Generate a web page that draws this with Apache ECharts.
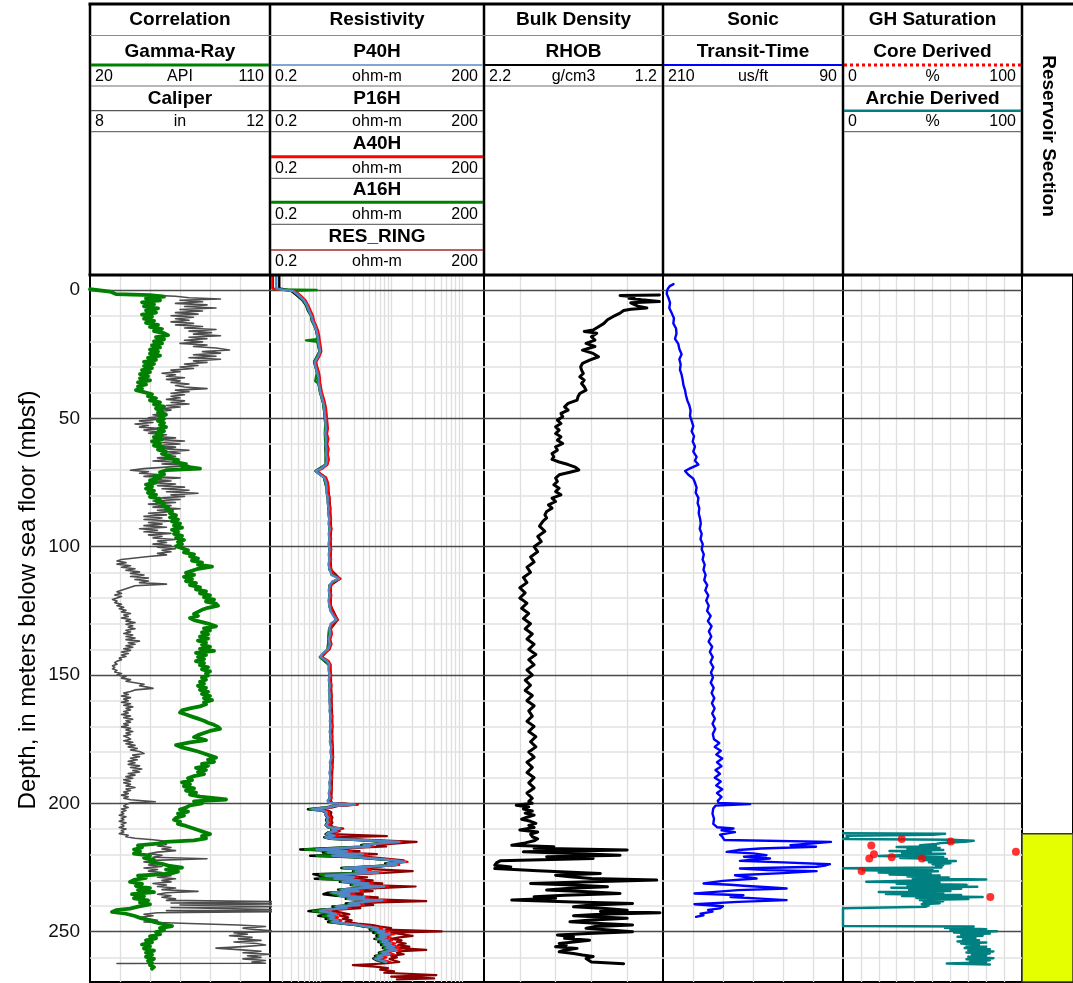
<!DOCTYPE html>
<html>
<head>
<meta charset="utf-8">
<script src="https://cdn.jsdelivr.net/npm/echarts@6/dist/echarts.min.js"></script>
<style>
html,body{margin:0;padding:0;background:#fff;}
#chart{width:1073px;height:983px;}
</style>
</head>
<body>
<div id="chart"></div>
<script>
// ---------- Log data: [depth (mbsf), value] ----------
const depthLabels = [0, 50, 100, 150, 200, 250];
const depthMajor = [0, 50, 100, 150, 200, 250];
const depthMinor = [10,20,30,40,60,70,80,90,110,120,130,140,160,170,180,190,210,220,230,240,260];

const grGrid = [35, 50, 65, 80, 95];
const resGrid = [0.3,0.4,0.5,0.6,0.7,0.8,0.9,1,2,3,4,5,6,7,8,9,10,20,30,40,50,60,70,80,90,100];
const rhobGrid = [2.0, 1.8, 1.6, 1.4];
const sonicGrid = [190, 170, 150, 130, 110];
const satGrid = [10, 20, 30, 40, 50, 60, 70, 80, 90];

// Gamma-Ray, API
const gammaRay = [
[-0.3,20],[0.6,30],[1.6,33],[2.0,50],[2.6,57],[3.3,48],[4.0,55],[4.8,46],[5.6,52],[6.4,47],[7.2,54],[8.0,48],[8.8,53],[9.6,46],
[10.4,51],[11.2,47],[12.0,52],[12.8,48],[13.6,54],[14.4,50],[15.2,56],[16.0,52],[16.8,57],[17.6,59],[18.4,53],[19.2,57],[20.0,52],
[20.8,56],[21.6,51],[22.4,55],[23.2,50],[24.0,54],[24.8,50],[25.6,55],[26.4,49],[27.2,53],[28.0,47],[28.8,52],[29.6,47],[30.4,51],
[31.2,46],[32.0,50],[32.8,45],[33.6,49],[34.4,45],[35.2,50],[36.0,44],[36.8,48],[37.6,44],[38.4,46],[39.0,43],[39.8,47],[40.6,51],
[41.4,49],[42.2,53],[43.0,50],[43.8,55],[44.6,52],[45.4,57],[46.2,53],[47.0,56],[47.8,54],[48.6,58],[49.4,55],[50.2,57],[51.0,54],
[51.8,57],[52.6,55],[53.4,58],[54.2,54],[55.0,57],[55.8,53],[56.6,56],[57.4,52],[58.2,56],[59.0,51],[59.8,55],[60.6,52],[61.4,57],
[62.2,54],[63.0,58],[63.8,56],[64.6,60],[65.4,58],[66.2,64],[67.0,62],[67.8,68],[68.6,66],[69.6,75],[70.2,58],[71.0,55],[71.8,57],
[72.6,52],[73.4,55],[74.2,50],[75.0,53],[75.8,48],[76.6,51],[77.4,48],[78.2,52],[79.0,49],[79.8,53],[80.6,50],[81.4,55],[82.2,53],
[83.0,57],[83.8,56],[84.6,59],[85.4,58],[86.2,61],[87.0,60],[87.8,63],[88.6,60],[89.4,64],[90.2,61],[91.0,65],[91.8,62],[92.6,66],
[93.4,61],[94.2,64],[95.0,62],[95.8,66],[96.6,63],[97.4,67],[98.2,64],[99.0,66],[99.8,63],[100.6,66],[101.4,69],[102.2,67],[103.0,72],
[103.8,70],[104.6,74],[105.4,71],[106.2,76],[107.0,74],[107.8,81],[108.6,74],[109.4,71],[110.2,68],[111.0,72],[111.8,67],[112.6,71],
[113.4,68],[114.2,73],[115.0,70],[115.8,75],[116.6,73],[117.4,78],[118.2,75],[119.0,80],[119.8,77],[120.6,82],[121.4,78],[122.2,83],
[123.0,84],[123.8,79],[124.6,76],[125.4,74],[126.2,72],[127.0,74],[127.8,70],[128.6,72],[129.4,76],[130.2,80],[131.0,83],[131.8,77],
[132.6,80],[133.4,76],[134.2,79],[135.0,75],[135.8,79],[136.6,74],[137.4,78],[138.2,76],[139.0,80],[139.8,75],[140.6,82],[141.4,73],
[142.2,78],[143.0,74],[143.8,77],[144.6,73],[145.4,77],[146.2,75],[147.0,79],[147.8,76],[148.6,80],[149.4,78],[150.2,79],[151.0,76],
[151.8,78],[152.6,75],[153.4,77],[154.2,74],[155.0,78],[155.8,75],[156.6,79],[157.4,76],[158.2,80],[159.0,77],[159.8,81],[160.6,77],
[161.4,78],[162.2,75],[163.0,70],[163.8,66],[164.6,65],[165.4,68],[166.2,71],[167.0,74],[167.8,77],[168.6,79],[169.4,82],[170.2,84],
[171.0,85],[171.8,80],[172.6,77],[173.4,74],[174.2,72],[175.0,76],[175.4,78],[176.2,70],[177.3,63],[178.2,66],[179.0,70],[179.8,74],
[180.6,77],[181.4,80],[182.2,83],[183.0,79],[183.8,82],[184.6,76],[185.4,79],[186.2,73],[187.0,78],[187.8,74],[188.6,77],[189.4,72],
[190.2,69],[191.0,71],[191.8,66],[192.6,70],[193.4,67],[194.2,72],[195.0,68],[195.8,73],[196.6,70],[197.4,75],[198.5,88],[199.2,72],
[200.0,76],[200.8,70],[201.6,68],[202.4,65],[203.2,69],[204.0,64],[204.8,67],[205.6,63],[206.4,62],[207.2,65],[208.0,64],[208.8,68],
[209.6,71],[210.4,74],[211.2,77],[212.0,80],[212.8,76],[213.6,78],[214.4,72],[215.0,58],[215.6,55],[216.4,44],[217.2,46],[218.0,42],
[218.8,45],[219.6,42],[220.4,50],[221.2,47],[222.0,52],[222.8,50],[223.6,56],[224.4,60],[225.0,66],[225.8,58],[226.6,64],[227.4,60],
[228.2,44],[229.0,48],[229.8,42],[230.6,40],[231.4,46],[232.2,43],[233.0,50],[233.8,44],[234.6,52],[235.4,41],[236.2,47],[237.0,42],
[237.8,49],[238.6,45],[239.4,50],[240.2,44],[241.0,40],[241.6,33],[242.3,31],[243.0,38],[243.8,42],[244.6,45],[245.4,49],[246.2,52],
[247.0,56],[247.8,61],[248.6,55],[249.4,57],[250.2,53],[251.0,55],[251.8,50],[252.6,53],[253.4,48],[254.2,51],[255.0,46],[255.8,50],
[256.6,47],[257.4,52],[258.2,48],[259.0,51],[259.8,48],[260.6,52],[261.4,49],[262.2,51],[263.0,50],[263.8,52],[264.4,51]
];

// Caliper, in
const caliper = [
[2.0,9.3],[2.4,9.9],[3.0,10.2],[3.5,10.9],[4.0,10.0],[4.6,10.5],[5.2,9.9],[5.8,10.6],[6.4,10.1],[7.0,10.8],[7.6,10.0],[8.2,10.5],
[8.8,9.9],[9.4,10.4],[10.0,9.8],[10.6,10.3],[11.2,9.9],[11.8,10.2],[12.4,9.8],[13.0,10.3],[13.6,9.9],[14.2,10.5],[14.8,10.1],[15.4,10.8],
[16.0,10.2],[16.6,10.7],[17.2,10.3],[17.8,10.9],[18.4,10.2],[19.0,10.6],[19.6,10.1],[20.2,10.5],[20.8,10.0],[21.4,10.6],[22.0,10.3],
[22.6,10.8],[23.4,11.1],[24.0,10.5],[24.6,10.9],[25.2,10.3],[25.8,10.8],[26.4,10.2],[27.0,10.9],[27.6,10.3],[28.2,10.6],[28.8,10.1],
[29.4,10.4],[30.0,10.0],[30.6,10.3],[31.2,9.8],[31.8,10.0],[32.4,9.6],[33.0,9.9],[33.6,9.7],[34.2,10.1],[34.8,9.7],[35.4,10.0],[36.0,9.8],
[36.6,10.2],[37.2,9.9],[37.8,10.1],[38.4,10.6],[39.0,9.9],[39.6,10.2],[40.2,9.8],[40.8,10.1],[41.4,9.8],[42.0,10.0],[42.6,9.7],[43.2,10.1],
[43.8,9.8],[44.4,10.2],[45.0,9.7],[45.6,10.0],[46.2,9.6],[46.8,9.8],[47.4,9.5],[48.0,9.7],[48.6,9.4],[49.2,9.6],[49.8,9.3],[50.4,9.5],
[51.0,9.1],[51.6,9.4],[52.2,9.0],[52.8,9.3],[53.4,9.1],[54.0,9.6],[54.6,9.2],[55.2,9.5],[55.8,9.3],[56.4,9.7],[57.0,9.4],[57.6,9.9],
[58.2,9.5],[58.8,10.1],[59.4,9.6],[60.0,10.0],[60.6,9.5],[61.2,9.9],[61.8,9.6],[62.4,10.2],[63.0,9.7],[63.6,10.0],[64.2,9.6],[64.8,9.9],
[65.4,9.5],[66.0,9.8],[66.6,9.4],[67.2,10.0],[67.8,9.6],[68.4,10.2],[69.0,9.7],[69.6,9.2],[70.2,8.9],[70.8,9.3],[71.4,9.1],[72.0,9.6],
[72.6,9.2],[73.2,10.0],[73.8,9.4],[74.4,9.8],[75.0,9.3],[75.6,9.9],[76.2,9.5],[76.8,10.1],[77.4,9.6],[78.0,10.2],[78.6,9.7],[79.2,10.4],
[79.8,9.8],[80.4,10.1],[81.0,9.6],[81.6,10.0],[82.2,9.4],[82.8,9.9],[83.4,9.3],[84.0,9.8],[84.6,9.4],[85.2,10.0],[85.8,9.5],[86.4,9.8],
[87.0,9.3],[87.6,9.7],[88.2,9.2],[88.8,9.6],[89.4,9.2],[90.0,9.8],[90.6,9.3],[91.2,9.6],[91.8,9.2],[92.4,9.7],[93.0,9.1],[93.6,9.5],
[94.2,9.2],[94.8,9.8],[95.4,9.3],[96.0,9.6],[96.6,9.4],[97.2,9.9],[97.8,9.5],[98.4,9.7],[99.0,9.4],[99.6,9.8],[100.2,9.5],[100.8,9.9],
[101.4,9.6],[102.0,9.8],[102.6,9.5],[103.2,9.7],[103.8,9.3],[104.4,9.0],[105.0,8.7],[105.6,8.6],[106.2,8.8],[106.8,8.6],[107.4,8.9],
[108.0,8.7],[108.6,9.0],[109.2,8.8],[109.8,9.1],[110.4,8.9],[111.0,9.2],[111.6,8.9],[112.2,9.3],[112.8,9.0],[113.4,9.3],[114.0,9.1],
[114.6,9.7],[115.2,9.0],[115.8,8.9],[116.4,8.8],[117.0,8.7],[117.6,8.6],[118.2,8.7],[118.8,8.55],[119.4,8.7],[120.0,8.6],[120.6,8.5],
[121.2,8.6],[121.8,8.55],[122.4,8.7],[123.0,8.6],[123.6,8.75],[124.2,8.65],[124.8,8.8],[125.4,8.7],[126.0,8.9],[126.6,8.75],[127.2,8.85],
[127.8,8.7],[128.4,8.9],[129.0,8.8],[129.6,9.0],[130.2,8.8],[130.8,8.95],[131.4,8.85],[132.0,9.0],[132.6,8.8],[133.2,8.9],[133.8,8.75],
[134.4,8.95],[135.0,8.8],[135.6,9.0],[136.2,8.8],[136.8,9.1],[137.4,8.85],[138.0,9.0],[138.6,8.8],[139.2,8.95],[139.8,8.75],[140.4,8.9],
[141.0,8.7],[141.6,8.85],[142.2,8.7],[142.8,8.8],[143.4,8.65],[144.0,8.7],[144.6,8.6],[145.2,8.55],[145.8,8.6],[146.4,8.5],[147.0,8.55],
[147.6,8.5],[148.2,8.6],[148.8,8.55],[149.4,8.7],[150.0,8.6],[150.6,8.8],[151.2,8.7],[151.8,8.9],[152.4,8.8],[153.0,9.0],[153.6,9.2],
[154.2,9.1],[154.8,9.3],[155.2,9.4],[155.8,9.0],[156.4,8.9],[157.0,8.75],[157.6,8.85],[158.2,8.7],[158.8,8.9],[159.4,8.75],[160.0,8.85],
[160.6,8.7],[161.2,8.9],[161.8,8.75],[162.4,8.95],[163.0,8.8],[163.6,8.9],[164.2,8.75],[164.8,8.85],[165.4,8.7],[166.0,8.9],[166.6,8.75],
[167.2,8.95],[167.8,8.8],[168.4,8.9],[169.0,8.75],[169.6,8.85],[170.2,8.7],[170.8,8.9],[171.4,8.8],[172.0,8.95],[172.6,8.8],[173.2,8.9],
[173.8,8.75],[174.4,8.85],[175.0,8.9],[175.6,8.75],[176.2,8.95],[176.8,8.8],[177.4,9.0],[178.0,8.85],[178.6,9.05],[179.2,8.9],[179.8,9.1],
[180.6,9.2],[181.2,8.95],[181.8,9.1],[182.4,8.9],[183.0,9.05],[183.6,8.85],[184.2,9.0],[184.8,8.85],[185.4,9.1],[186.0,8.9],[186.6,9.15],
[187.2,8.95],[187.8,9.1],[188.4,8.85],[189.0,9.0],[189.6,8.8],[190.2,8.95],[190.8,8.75],[191.4,8.9],[192.0,8.75],[192.6,8.9],[193.2,8.8],
[193.8,9.0],[194.4,8.8],[195.0,8.9],[195.6,8.75],[196.2,8.85],[196.8,8.7],[197.4,8.85],[198.0,8.75],[198.6,8.9],[199.4,9.45],[199.8,8.9],
[200.4,8.8],[201.0,8.75],[201.6,8.85],[202.2,8.7],[202.8,8.8],[203.4,8.7],[204.0,8.75],[204.6,8.65],[205.2,8.8],[205.8,8.7],[206.4,8.75],
[207.0,8.65],[207.6,8.8],[208.2,8.7],[208.8,8.75],[209.4,8.65],[210.0,8.8],[210.6,8.7],[211.2,8.75],[211.8,8.65],[212.4,8.85],[213.0,8.8],
[213.6,9.0],[214.2,9.4],[214.8,9.7],[215.4,9.5],[216.0,9.7],[216.6,9.5],[217.2,9.8],[217.8,9.6],[218.4,9.9],[219.0,9.5],[219.6,9.3],
[220.2,9.6],[221.0,9.4],[221.6,10.6],[222.2,9.4],[222.8,9.2],[223.4,9.5],[224.0,9.3],[224.6,9.6],[225.2,9.2],[225.8,9.5],[226.4,9.3],
[227.0,9.6],[227.6,9.4],[228.2,9.8],[228.8,9.5],[229.4,9.9],[230.0,9.6],[230.6,9.8],[231.2,9.4],[231.8,9.7],[232.4,9.5],[233.0,9.9],
[233.6,9.6],[234.3,10.4],[234.8,9.7],[235.4,9.5],[236.0,9.8],[236.6,9.6],[237.2,9.9],[237.8,9.7],[238.3,12.2],[238.8,9.8],[239.2,12.2],
[239.6,10.0],[240.2,12.2],[240.6,9.8],[241.4,12.2],[241.8,9.7],[242.2,12.2],[242.6,9.5],[243.2,9.2],[243.8,9.4],[244.4,9.1],[245.0,9.3],
[245.6,9.5],[246.2,9.2],[246.8,10.2],[247.4,11.3],[248.0,11.9],[248.6,11.4],[249.2,11.7],[249.8,12.2],[250.4,11.2],[251.0,11.5],[251.6,11.1],
[252.2,11.6],[252.8,11.3],[253.4,11.8],[254.0,11.2],[254.6,11.7],[255.2,11.9],[255.8,11.4],[256.4,10.8],[257.0,11.3],[257.6,11.8],
[258.2,11.4],[258.8,12.0],[259.4,11.5],[260.0,11.8],[260.6,11.4],[261.2,11.9],[261.8,11.6],[262.3,11.9],[262.4,8.6]
];

// Resistivity curves, ohm-m
const p40h = [
[-5.5,0.245],[-0.6,0.245],[-0.1,0.3],[0.4,0.42],[2,0.5],[4,0.6],[6,0.66],[8,0.7],[10,0.76],[12,0.79],[14,0.85],[16,0.9],[18,0.93],
[20,0.95],[22,0.98],[24,1.0],[26,0.94],[28,0.85],[30,0.87],[32,0.92],[34,0.95],[36,0.96],[38,0.99],[40,1.02],[42,1.07],[44,1.12],
[46,1.15],[48,1.17],[50,1.19],[52,1.2],[54,1.22],[56,1.19],[58,1.23],[60,1.2],[62,1.24],[64,1.22],[66,1.26],[68,1.22],[69.5,1.05],
[70.5,0.88],[71.5,0.95],[73,1.15],[75,1.22],[77,1.25],[79,1.23],[81,1.3],[83,1.28],[85,1.33],[87,1.3],[89,1.36],[91,1.32],[93,1.38],
[95,1.33],[97,1.36],[99,1.32],[101,1.37],[103,1.33],[105,1.36],[107,1.32],[109,1.38],[111,1.45],[112.5,1.85],[113.5,1.5],[115,1.38],
[117,1.33],[119,1.37],[121,1.32],[123,1.36],[125,1.4],[127,1.55],[128.5,1.7],[130,1.42],[132,1.36],[134,1.4],[136,1.33],[138,1.38],
[140,1.3],[141.5,1.1],[143,1.02],[144.5,1.25],[146,1.35],[148,1.32],[150,1.37],[152,1.33],[154,1.38],[156,1.34],[158,1.39],[160,1.35],
[162,1.4],[164,1.36],[166,1.42],[168,1.38],[170,1.43],[172,1.37],[174,1.42],[176,1.38],[178,1.45],[180,1.4],[182,1.46],[184,1.38],
[186,1.43],[188,1.36],[190,1.41],[192,1.35],[194,1.4],[196,1.33],[198,1.38],
[199,1.28],[199.8,1.35],[200.5,3.1],[201,1.6],[201.6,1.3],[202.3,0.78],[202.8,1.1],[203.5,1.25],[204.5,1.22],[205.5,1.3],[206.5,1.25],
[207.5,1.3],[208.5,1.22],[209.3,1.35],[209.8,1.9],[210.3,1.5],[210.8,1.7],[211.3,1.35],[212,1.25],[212.6,1.6],[213.2,1.2],[213.8,1.5],
[214.4,4.5],[215,13],[215.6,7],[216.2,4.2],[216.8,5],[217.4,2],[218,0.9],[218.6,2.4],[219.2,1.3],[219.8,4],[220.4,1.5],[221,3.5],
[221.6,6],[222.2,11],[222.8,15.5],[223.4,9],[224,12],[224.6,5.5],[225.2,2.2],[225.8,4.5],[226.4,3.2],[227,6.5],[227.6,2.4],[228.2,1.2],
[228.8,3],[229.4,1.6],[230,3.6],[230.6,2.1],[231.2,4.8],[231.8,3],[232.4,8],[233,4],[233.6,2],[234.2,3.5],[234.8,1.5],[235.4,2.6],
[236,1.9],[236.6,4.2],[237.2,2.5],[237.8,7.5],[238.4,4.2],[239,2.6],[239.6,3.6],[240.2,1.7],[240.8,2.4],[241.4,1.2],[242,1.0],[242.6,1.4],
[243.2,1.7],[243.8,1.3],[244.4,1.6],[245,1.4],[245.6,1.8],[246.2,1.5],[246.8,2.2],[247.4,3.5],[248,4.5],[248.6,6.5],[249.2,5.5],[249.8,8],
[250.4,6.5],[251,9.5],[251.6,7],[252.2,8.5],[252.8,6.5],[253.4,9],[254,7.5],[254.6,10],[255.2,8],[255.8,11],[256.4,8.5],[257,12],
[257.6,9],[258.2,7.5],[258.8,9.5],[259.4,6.5],[260,7.5],[260.6,6],[261.2,7],[261.8,8.5]
];
const p16h = [
[-5.5,0.27],[-0.6,0.27],[-0.1,0.34],[0.4,0.4],[2,0.47],[4,0.57],[6,0.64],[8,0.68],[10,0.75],[12,0.77],[14,0.84],[16,0.89],[18,0.92],
[20,0.93],[24,0.99],[28,0.83],[32,0.91],[36,0.95],[40,1.01],[44,1.11],[48,1.16],[52,1.19],[56,1.18],[60,1.19],[64,1.21],[68,1.21],
[70.5,0.87],[73,1.14],[77,1.24],[81,1.29],[85,1.32],[89,1.35],[93,1.37],[97,1.35],[101,1.36],[105,1.35],[109,1.37],[112.5,1.8],
[115,1.37],[119,1.36],[123,1.35],[128.5,1.68],[132,1.35],[136,1.32],[140,1.29],[143,1.0],[146,1.34],[150,1.36],[154,1.37],[158,1.38],
[162,1.39],[166,1.41],[170,1.42],[174,1.41],[178,1.44],[182,1.45],[186,1.42],[190,1.4],[194,1.39],[198,1.37],
[199,1.3],[199.8,1.36],[200.5,3.0],[201,1.55],[201.6,1.2],[202.3,0.68],[202.8,1.05],[203.5,1.22],[204.5,1.2],[205.5,1.27],[206.5,1.22],
[207.5,1.27],[208.5,1.2],[209.3,1.3],[209.8,1.8],[210.3,1.45],[210.8,1.6],[211.3,1.3],[212,1.2],[212.6,1.5],[213.2,1.15],[213.8,1.4],
[214.4,4.0],[215,12],[215.6,6.5],[216.2,3.8],[216.8,4.6],[217.4,1.5],[218,0.53],[218.6,2.0],[219.2,1.1],[219.8,3.6],[220.4,0.73],[221,3.0],
[221.6,5.5],[222.2,10],[222.8,14.5],[223.4,8.2],[224,11],[224.6,5],[225.2,2.0],[225.8,4.1],[226.4,2.9],[227,6],[227.6,0.81],[228.2,1.0],
[228.8,2.7],[229.4,0.85],[230,3.2],[230.6,1.9],[231.2,4.4],[231.8,2.7],[232.4,7.3],[233,3.6],[233.6,1.8],[234.2,3.2],[234.8,1.3],[235.4,1.12],
[236,1.7],[236.6,3.8],[237.2,2.3],[237.8,6.8],[238.4,3.8],[239,2.3],[239.6,3.2],[240.2,1.5],[240.8,2.1],[241.4,1.0],[242,0.69],[242.6,1.2],
[243.2,1.5],[243.8,0.95],[244.4,1.4],[245,1.2],[245.6,1.6],[246.2,1.3],[246.8,2.0],[247.4,3.2],[248,4.1],[248.6,5.9],[249.2,5.0],[249.8,7.2],
[250.4,5.6],[251,8.6],[251.6,6.2],[252.2,7.6],[252.8,5.8],[253.4,8.2],[254,6.6],[254.6,9.1],[255.2,7.2],[255.8,10],[256.4,7.6],[257,11],
[257.6,8.1],[258.2,6.7],[258.8,8.6],[259.4,5.9],[260,6.8],[260.4,5.6],[261.2,6.3],[261.8,7.7]
];
const a40h = [
[-5.5,0.215],[-0.6,0.215],[-0.2,0.25],[0.3,0.44],[2,0.53],[4,0.63],[6,0.69],[8,0.74],[10,0.8],[12,0.83],[14,0.89],[16,0.95],[18,0.98],
[20,1.0],[22,1.03],[24,1.05],[26,0.98],[28,0.89],[30,0.92],[32,0.97],[34,1.0],[36,1.01],[38,1.04],[40,1.07],[42,1.13],[44,1.18],
[46,1.22],[48,1.24],[50,1.26],[52,1.28],[54,1.3],[56,1.26],[58,1.32],[60,1.27],[62,1.33],[64,1.29],[66,1.34],[68,1.28],[69.5,1.1],
[70.5,0.92],[71.5,1.0],[73,1.22],[75,1.3],[77,1.33],[79,1.3],[81,1.38],[83,1.35],[85,1.41],[87,1.37],[89,1.44],[91,1.39],[93,1.46],
[95,1.4],[97,1.44],[99,1.39],[101,1.45],[103,1.4],[105,1.44],[107,1.39],[109,1.46],[111,1.53],[112.5,1.95],[113.5,1.58],[115,1.45],
[117,1.4],[119,1.45],[121,1.39],[123,1.44],[125,1.48],[127,1.63],[128.5,1.8],[130,1.5],[132,1.43],[134,1.48],[136,1.4],[138,1.46],
[140,1.37],[141.5,1.16],[143,1.08],[144.5,1.32],[146,1.42],[148,1.39],[150,1.45],[152,1.4],[154,1.46],[156,1.41],[158,1.47],[160,1.42],
[162,1.48],[164,1.43],[166,1.5],[168,1.45],[170,1.51],[172,1.44],[174,1.5],[176,1.45],[178,1.53],[180,1.47],[182,1.54],[184,1.45],
[186,1.51],[188,1.43],[190,1.49],[192,1.42],[194,1.48],[196,1.4],[198,1.46],
[199,1.36],[199.8,1.45],[200.5,3.3],[201,1.7],[201.6,1.4],[202.3,0.85],[202.8,1.2],[203.5,1.35],[204.5,1.32],[205.5,1.42],[206.5,1.35],
[207.5,1.42],[208.5,1.32],[209.3,1.45],[209.8,2.0],[210.3,1.6],[210.8,1.8],[211.3,1.45],[212,1.35],[212.6,1.8],[213.2,1.3],[213.8,1.7],
[214.4,5.0],[215,14],[215.6,8.5],[216.2,4.6],[216.8,5.6],[217.4,2.3],[218,1.0],[218.6,2.8],[219.2,1.5],[219.8,4.6],[220.4,1.7],[221,4.0],
[221.6,7.0],[222.2,12.5],[222.8,17],[223.4,10],[224,13],[224.6,6],[225.2,2.5],[225.8,5.2],[226.4,3.8],[227,7.5],[227.6,2.7],[228.2,1.3],
[228.8,3.4],[229.4,1.8],[230,4.1],[230.6,2.4],[231.2,5.5],[231.8,3.4],[232.4,9],[233,4.6],[233.6,2.3],[234.2,4.0],[234.8,1.7],[235.4,3.0],
[236,2.1],[236.6,4.8],[237.2,2.8],[237.8,8.5],[238.4,4.8],[239,3.0],[239.6,4.1],[240.2,1.9],[240.8,2.7],[241.4,1.3],[242,1.1],[242.6,1.5],
[243.2,1.9],[243.8,1.4],[244.4,1.8],[245,1.5],[245.6,2.0],[246.2,1.7],[246.8,2.5],[247.4,4.0],[248,5.2],[248.6,7.5],[249.2,6.3],[249.8,9.2],
[250.4,7.4],[251,11],[251.6,8],[252.2,9.8],[252.8,7.4],[253.4,10.3],[254,8.6],[254.6,11.5],[255.2,9.2],[255.8,12.6],[256.4,9.7],[257,13.8],
[257.6,10.3],[258.2,8.6],[258.8,10.9],[259.4,7.4],[260,8.6],[260.6,6.9],[261.2,8],[261.8,9.7]
];
const a16h = [
[-0.2,0.25],[0.0,0.9],[0.3,0.42],[2,0.49],[4,0.58],[6,0.65],[8,0.69],[10,0.75],[12,0.78],[14,0.84],[16,0.9],[18,0.92],[19.2,0.9],
[19.6,0.64],[20.2,0.92],[24,0.99],[28,0.84],[32,0.91],[35.5,0.86],[36.5,0.96],[40,1.01],[44,1.11],[48,1.16],[52,1.19],[56,1.18],
[60,1.2],[64,1.21],[68,1.21],[70.5,0.87],[73,1.14],[77,1.24],[81,1.29],[85,1.32],[89,1.35],[93,1.37],[97,1.35],[101,1.36],[105,1.35],
[109,1.37],[112.5,1.82],[115,1.37],[119,1.36],[123,1.35],[128.5,1.69],[132,1.35],[136,1.32],[140,1.29],[143,1.01],[146,1.34],[150,1.36],
[154,1.37],[158,1.38],[162,1.39],[166,1.41],[170,1.42],[174,1.41],[178,1.44],[182,1.45],[186,1.42],[190,1.4],[194,1.39],[198,1.37],
[199,1.32],[199.8,1.4],[200.5,3.1],[201,1.6],[201.6,1.25],[202.3,0.72],[202.8,1.1],[203.5,1.26],[204.5,1.24],[205.5,1.3],[206.5,1.26],
[207.5,1.3],[208.5,1.24],[209.3,1.34],[209.8,1.85],[210.3,1.5],[210.8,1.65],[211.3,1.33],[212,1.24],[212.6,1.55],[213.2,1.2],[213.8,1.45],
[214.4,4.3],[215,12.5],[215.6,6.8],[216.2,4.0],[216.8,4.8],[217.4,1.7],[218,0.62],[218.6,2.2],[219.2,1.2],[219.8,3.8],[220.4,0.9],[221,3.3],
[221.6,5.8],[222.2,10.5],[222.8,15],[223.4,8.6],[224,11.5],[224.6,5.2],[225.2,2.1],[225.8,4.3],[226.4,3.0],[227,6.2],[227.6,1.0],[228.2,1.1],
[228.8,2.8],[229.4,1.0],[230,3.4],[230.6,2.0],[231.2,4.6],[231.8,2.8],[232.4,7.6],[233,3.8],[233.6,1.9],[234.2,3.3],[234.8,1.4],[235.4,1.4],
[236,1.8],[236.6,4.0],[237.2,2.4],[237.8,7.1],[238.4,4.0],[239,2.5],[239.6,3.4],[240.2,1.6],[240.8,2.2],[241.4,1.1],[242,0.8],[242.6,1.3],
[243.2,1.6],[243.8,1.1],[244.4,1.5],[245,1.3],[245.6,1.7],[246.2,1.4],[246.8,2.1],[247.4,3.3],[248,4.3],[248.6,6.2],[249.2,5.2],[249.8,7.6],
[250.4,6.0],[251,9.0],[251.6,6.6],[252.2,8.0],[252.8,6.1],[253.4,8.6],[254,7.0],[254.6,9.5],[255.2,7.6],[255.8,10.4],[256.4,8.0],[257,11.4],
[257.6,8.5],[258.2,7.0],[258.8,9.0],[259.4,6.2],[260,7.1],[260.4,5.8],[261.2,6.6],[261.8,8.1]
];
const resRing = [
[-5.5,0.22],[-0.6,0.22],[-0.1,0.3],[0.4,0.45],[2,0.52],[4,0.62],[6,0.68],[8,0.72],[10,0.79],[12,0.81],[14,0.87],[16,0.93],[18,0.96],
[20,0.98],[24,1.03],[28,0.87],[32,0.95],[36,0.99],[40,1.05],[44,1.16],[48,1.22],[52,1.26],[56,1.25],[60,1.26],[64,1.28],[68,1.27],
[70.5,0.9],[73,1.2],[77,1.31],[81,1.36],[85,1.4],[89,1.42],[93,1.44],[97,1.42],[101,1.43],[105,1.42],[109,1.44],[112.5,1.92],[115,1.43],
[119,1.43],[123,1.42],[128.5,1.78],[132,1.42],[136,1.39],[140,1.35],[143,1.06],[146,1.4],[150,1.43],[154,1.44],[158,1.46],[162,1.47],
[166,1.49],[170,1.5],[174,1.49],[178,1.52],[182,1.53],[186,1.5],[190,1.48],[194,1.47],[198,1.45],
[199,1.42],[199.8,1.5],[200.5,3.4],[201,1.8],[201.6,1.5],[202.3,0.95],[202.8,1.3],[203.5,1.45],[204.5,1.42],[205.5,1.5],[206.5,1.45],
[207.5,1.5],[208.5,1.42],[209.3,1.55],[209.8,2.13],[210.3,1.7],[210.8,1.9],[211.3,1.55],[212,1.45],[212.8,8.7],[213.2,1.5],[213.8,2.2],
[214.4,7.0],[215,22.7],[215.6,12],[216.2,6.3],[216.8,8.5],[217.4,3.0],[218,1.3],[218.6,3.6],[219.2,2.0],[219.8,6.3],[220.4,2.4],[221,5.5],
[221.6,9.0],[222.2,15],[222.8,16],[223.4,12],[224,10],[224.6,7.5],[225.2,3.3],[225.8,7],[226.4,20],[227,9],[227.6,3.5],[228.2,1.8],
[228.8,4.6],[229.4,2.5],[230,5.5],[230.6,3.3],[231.2,7.5],[231.8,4.6],[232.4,22],[233,6.5],[233.6,3.2],[234.2,5.5],[234.8,2.4],[235.4,4.0],
[236,3.0],[236.6,6.5],[237.2,3.8],[238.1,31],[238.6,6.5],[239,4.2],[239.6,5.6],[240.2,2.6],[240.8,3.7],[241.4,1.8],[242,1.5],[242.6,2.0],
[243.2,2.6],[243.8,1.9],[244.4,2.5],[245,2.1],[245.6,2.8],[246.2,2.3],[246.8,3.4],[247.4,5.5],[248,7],[248.6,10],[249.2,8.5],[249.9,51],
[250.4,10],[251,14],[251.6,20],[252.2,13],[252.8,10],[253.4,14],[254,12],[254.6,16],[255.2,12.5],[255.8,18],[256.4,13],[257.1,31],
[257.6,14],[258.2,12],[258.8,15],[259.4,10],[260,12],[260.6,9.5],[261.2,11],[261.8,13],[262.4,8],[263,2.9],[263.6,6],[264.2,9],
[264.8,7],[265.4,11],[266,8],[266.9,43],[267.5,10],[268.2,40],[268.6,12]
];

// Bulk density RHOB, g/cm3
const rhob = [
[1.9,1.22],[2.1,1.44],[2.6,1.36],[3.2,1.39],[3.8,1.32],[4.5,1.22],[5.0,1.38],[5.6,1.37],[6.3,1.34],[7.0,1.29],[7.5,1.38],[8.0,1.42],
[9.0,1.44],[10.4,1.48],[11.6,1.51],[13.0,1.53],[14.3,1.56],[15.6,1.59],[16.2,1.64],[16.8,1.57],[18.2,1.60],[19.5,1.58],[20.8,1.63],
[22.0,1.58],[23.4,1.65],[24.7,1.59],[26.0,1.56],[27.3,1.61],[28.6,1.65],[29.9,1.66],[31.2,1.655],[32.5,1.645],[33.8,1.665],[35.1,1.64],
[36.4,1.655],[37.7,1.64],[39.0,1.63],[40.3,1.665],[41.6,1.675],[42.9,1.68],[44.2,1.73],[45.5,1.75],[46.8,1.73],[48.1,1.77],[49.4,1.76],
[50.7,1.79],[52.0,1.77],[53.3,1.80],[54.6,1.78],[55.9,1.80],[57.2,1.77],[58.5,1.79],[59.8,1.76],[61.1,1.80],[62.4,1.79],[63.7,1.82],
[65.0,1.81],[66.0,1.82],[67.0,1.78],[68.0,1.73],[69.0,1.69],[70.1,1.67],[71.0,1.72],[72.0,1.78],[73.3,1.80],[74.6,1.79],[75.9,1.81],
[77.2,1.78],[78.5,1.80],[79.8,1.77],[81.1,1.82],[82.4,1.80],[83.7,1.84],[85.0,1.82],[86.3,1.85],[87.6,1.86],[88.8,1.85],
[90,1.87],[92,1.89],[94,1.86],[96,1.90],[98,1.88],[100,1.92],[102,1.90],[104,1.94],[106,1.92],[108,1.96],[110,1.94],[112,1.98],
[114,1.96],[116,2.00],[118,1.97],[120,2.00],[122,1.96],[124,1.99],[126,1.95],[128,1.98],[130,1.94],[132,1.97],[134,1.93],[136,1.96],
[138,1.92],[140,1.95],[142,1.91],[144,1.95],[146,1.92],[148,1.96],[150,1.93],[152,1.97],[154,1.94],[156,1.97],[158,1.93],[160,1.96],
[162,1.92],[164,1.95],[166,1.93],[168,1.96],[170,1.92],[172,1.95],[174,1.91],[176,1.94],[178,1.91],[180,1.95],[182,1.92],[184,1.96],
[186,1.93],[188,1.96],[190,1.92],[192,1.95],[194,1.92],[196,1.96],[198,1.93],
[199.2,1.95],[200.0,1.93],[200.7,2.02],[201.4,1.95],[202.2,1.98],[203.0,1.93],[203.8,1.97],[204.6,1.92],[205.4,1.96],[206.2,1.99],
[207.0,1.94],[207.8,1.91],[208.6,1.95],[209.4,1.92],[210.4,2.00],[211.2,1.90],[212.0,1.94],[213.0,1.93],[213.8,1.90],[214.6,1.92],
[215.4,1.97],[216.3,2.045],[216.9,1.81],[217.5,1.92],[218.2,1.40],[218.9,1.98],[219.5,1.70],[220.2,1.44],[220.8,1.85],[221.5,1.59],
[222.4,2.11],[223.2,2.13],[224.1,2.14],[224.8,2.05],[225.4,2.14],[226.3,1.90],[227.3,1.55],[228.0,1.80],[228.6,1.72],[229.3,1.60],
[229.9,1.235],[230.5,1.60],[231.2,1.94],[231.8,1.70],[232.5,1.51],[233.1,1.72],[233.8,1.85],[234.4,1.62],[235.1,1.44],[235.8,1.75],
[236.4,1.92],[237.0,1.80],[237.7,2.045],[238.4,1.70],[239.0,1.37],[239.6,1.60],[240.3,1.70],[241.0,1.52],[241.6,1.40],[242.1,1.55],
[242.6,1.217],[243.2,1.55],[243.8,1.70],[244.3,1.55],[244.8,1.40],[245.5,1.62],[246.1,1.72],[246.8,1.55],[247.4,1.37],[248.0,1.58],
[248.7,1.63],[249.3,1.50],[250.0,1.37],[250.7,1.62],[251.3,1.79],[252.0,1.70],[252.6,1.75],[253.3,1.61],[254.0,1.70],[254.6,1.78],
[255.2,1.74],[255.9,1.80],[256.5,1.68],[257.2,1.75],[257.8,1.78],[258.5,1.70],[259.1,1.65],[259.7,1.59],[260.4,1.63],[261.0,1.62],
[261.8,1.60],[262.5,1.42]
];

// Sonic transit time, us/ft
const sonic = [
[-2.3,203],[-1.5,205.5],[-0.5,206.8],[0.5,207.3],[1.5,207.5],[3,206.4],[5,205.3],[7,205.8],[9,204.2],[11,202.7],[13,203.1],[15,201.3],[17,201],[19,202],[21,199.8],
[23,199.1],[25,197.6],[27,199.1],[29,198.2],[31,198.7],[33,197.6],[35,196.9],[37,196.4],[39,195.3],[41,194.7],[43,193.8],[45,192.4],
[47,191.6],[49,192],[51,190.9],[53,189.8],[55,190.9],[57,189.3],[59,190.2],[61,188.7],[63,189.8],[65,187.6],[66.5,188.7],[68,186.4],
[69.5,192],[70.5,195.3],[72,193.1],[73.5,189.8],[75,188.7],[77,187.6],[79,188.2],[81,186.4],[83,186.9],[85,185.8],[87,186.2],[89,185.3],
[91,184.8],[93,185.5],[95,184.2],[97,185],[99,183.5],[101,184.2],[103,182.8],[105,183.6],[107,182.2],[109,183],[111,181.6],[113,182.5],
[115,180.5],[117,181.8],[119,179.8],[121,181.2],[123,179.5],[125,180.6],[127,178.2],[129,180.1],[131,177.6],[133,179.4],[135,177.8],
[137,179.6],[139,177.2],[141,178.8],[143,176.8],[145,178.4],[147,176.4],[149,178],[151,176.7],[153,178.2],[155,176.2],[157,177.6],
[159,175.8],[161,177.4],[163,175.6],[165,177.2],[167,175.4],[169,177],[171,175.2],[173,176.8],[175,176],[176.5,172.5],[178,175.5],
[179.5,171.5],[181,174.5],[182.5,170.5],[184,174],[185.5,171],[187,175],[188.5,172],[190,175.5],[191.5,171.5],[193,174.5],[194.5,170.5],
[196,174],[197.5,171],[199,173.5],[199.8,173],[200.3,152],[200.9,175],[202,176.5],[204,177],[206,176],[208,176.5],[209.3,174],
[209.8,163],[210.5,171],[211.2,162],[212.2,172],[213.0,170.5],[213.6,171],[214.3,169],[215.0,98],[215.6,99],[216.3,125],[216.9,108],
[217.6,145],[218.2,160],[218.9,167.6],[219.5,150],[220.2,141],[220.8,156],[221.5,138.7],[222.0,152],[222.4,158.7],[223.0,130],
[223.7,98.7],[224.2,102],[224.7,107.6],[225.0,130],[225.4,158.7],[226.0,140],[226.4,107.6],[227.2,130],[228.0,162],[228.7,155],
[229.3,147.6],[230.2,170],[231.2,183],[231.7,165],[232.1,156.4],[232.7,140],[233.2,127.6],[233.8,160],[234.5,175],[235.1,189],
[235.8,156.4],[236.5,165],[237.1,145],[237.7,127.6],[238.4,160],[239.3,189],[240.1,170],[240.9,172],[241.5,180],[242.2,177],
[243.0,185],[243.6,183],[244.2,188]
];

// Gas hydrate saturation from Archie, %
const archieSat = [
[211.6,0],[211.8,57],[212.2,50],[212.6,2],[213.0,1],[213.5,3],[213.9,0],[214.2,60],[214.6,73],[215.0,68],[215.4,55],[215.8,52],
[216.3,43],[216.7,52],[217.0,30],[217.4,54],[217.8,36],[218.2,56],[218.6,26],[218.9,49],[219.3,33],[219.6,57],[220.0,40],[220.5,20],
[220.9,56],[221.3,32],[221.7,58],[222.1,45],[222.5,63],[222.9,48],[223.3,60],[223.7,50],[224.1,56],[224.5,52],[225.0,55],[225.3,0],
[225.7,50],[226.1,11],[226.5,53],[226.9,20],[227.3,49],[227.7,26],[228.1,54],[228.5,36],[228.9,59],[229.3,39],[229.7,80],[230.1,42],
[230.5,13],[230.9,54],[231.3,30],[231.7,69],[232.1,36],[232.5,75],[232.9,27],[233.3,66],[233.7,37],[234.1,60],[234.5,20],[234.9,56],
[235.3,24],[235.7,66],[236.1,33],[236.5,78],[236.9,41],[237.3,70],[237.7,43],[238.1,56],[238.5,45],[238.9,54],[239.3,44],[239.7,48],
[240.3,46],[240.9,0],[241.3,0],[247.8,0],[248.0,73],[248.5,57],[249.0,80],[249.4,60],[249.8,86],[250.3,62],[250.7,82],[251.1,66],
[251.6,78],[252.0,64],[252.5,74],[252.9,67],[253.3,76],[253.8,64],[254.2,80],[254.6,66],[255.1,76],[255.5,69],[255.9,80],[256.4,68],
[256.8,82],[257.2,70],[257.7,84],[258.1,69],[258.5,82],[259.0,72],[259.4,80],[259.8,70],[260.3,84],[260.7,69],[261.1,82],[261.6,71],
[262.0,80],[262.4,58],[262.8,82]
];

// Gas hydrate saturation from core, %
const coreSat = [
[213.9,32.8],[214.9,60.2],[216.4,15.8],[218.9,96.6],[219.8,17.3],[221.0,27.2],[221.5,14.7],[221.5,44.1],[226.4,10.4],[236.5,82.3]
];

// Top of the reservoir section, mbsf
const reservoirTop = 211.8;

// ---------- Layout ----------
const FONT = '"Liberation Sans", Arial, Helvetica, sans-serif';
const trackEdges = [90, 270, 484, 663, 843, 1022, 1074];
const plotTop = 275, plotHeight = 707;
const depthMin = -5.85, depthMax = 269.6;

const trackTitles = ['Correlation', 'Resistivity', 'Bulk Density', 'Sonic', 'GH Saturation'];
const rowNameY = [51.5, 98.5, 144, 190, 237];
const rowLineY = [65, 110.7, 156.7, 202.3, 250];
const rowScaleY = [77, 122, 169, 215, 261.5];
const rowBottomY = [86, 131.7, 178.3, 224.3, null];

const curveHeaders = [
  {track:0,row:0,name:'Gamma-Ray',unit:'API',lo:'20',hi:'110',color:'#008000',width:3},
  {track:0,row:1,name:'Caliper',unit:'in',lo:'8',hi:'12',color:'#555555',width:1.2},
  {track:1,row:0,name:'P40H',unit:'ohm-m',lo:'0.2',hi:'200',color:'#7ea7d8',width:2},
  {track:1,row:1,name:'P16H',unit:'ohm-m',lo:'0.2',hi:'200',color:'#333333',width:1.2},
  {track:1,row:2,name:'A40H',unit:'ohm-m',lo:'0.2',hi:'200',color:'#ff0000',width:3},
  {track:1,row:3,name:'A16H',unit:'ohm-m',lo:'0.2',hi:'200',color:'#008000',width:3},
  {track:1,row:4,name:'RES_RING',unit:'ohm-m',lo:'0.2',hi:'200',color:'#a52a2a',width:1.6},
  {track:2,row:0,name:'RHOB',unit:'g/cm3',lo:'2.2',hi:'1.2',color:'#000000',width:2},
  {track:3,row:0,name:'Transit-Time',unit:'us/ft',lo:'210',hi:'90',color:'#0000ff',width:2},
  {track:4,row:0,name:'Core Derived',unit:'%',lo:'0',hi:'100',color:'#ff0000',width:3,dash:[3,3]},
  {track:4,row:1,name:'Archie Derived',unit:'%',lo:'0',hi:'100',color:'#008080',width:2.5}
];

function txt(x, y, text, size, bold, align, rotation) {
  return {
    type: 'text', x: x, y: y, rotation: rotation || 0, silent: true, z: 10,
    style: {
      text: text, fill: '#000',
      font: (bold ? 'bold ' : '') + size + 'px ' + FONT,
      align: align || 'center', verticalAlign: 'middle',
      textAlign: align || 'center', textVerticalAlign: 'middle'
    }
  };
}
function seg(x1, y1, x2, y2, color, width, dash) {
  return {
    type: 'line', silent: true, z: 9,
    shape: {x1: x1, y1: y1, x2: x2, y2: y2},
    style: {stroke: color, lineWidth: width, lineDash: dash || null}
  };
}

const graphics = [];
// header frame
graphics.push(seg(88.5, 4, 1073, 4, '#000', 3));
graphics.push(seg(88.5, 275, 1073, 275, '#000', 3));
for (let i = 0; i < 6; i++) graphics.push(seg(trackEdges[i], 4, trackEdges[i], 275, '#000', 2.5));
// track titles
trackTitles.forEach((t, i) => {
  const l = trackEdges[i], r = trackEdges[i + 1];
  graphics.push(txt((l + r) / 2, 20, t, 19, true));
  graphics.push(seg(l, 35.5, r, 35.5, '#8a8a8a', 1.2));
});
// curve legends
curveHeaders.forEach(h => {
  const l = trackEdges[h.track], r = trackEdges[h.track + 1];
  graphics.push(txt((l + r) / 2, rowNameY[h.row], h.name, 19, true));
  graphics.push(seg(l + 1, rowLineY[h.row], r - 1, rowLineY[h.row], h.color, h.width, h.dash));
  graphics.push(txt(l + 5, rowScaleY[h.row], h.lo, 16, false, 'left'));
  graphics.push(txt((l + r) / 2, rowScaleY[h.row], h.unit, 16, false, 'center'));
  graphics.push(txt(r - 6, rowScaleY[h.row], h.hi, 16, false, 'right'));
  if (rowBottomY[h.row] !== null) graphics.push(seg(l + 1, rowBottomY[h.row], r - 1, rowBottomY[h.row], '#707070', 1.2));
});
graphics.push(txt(1048, 136, 'Reservoir Section', 19, true, 'center', -Math.PI / 2));
graphics.push(txt(28, 600, 'Depth, in meters below sea floor (mbsf)', 24, false, 'center', Math.PI / 2));

// ---------- Axes ----------
const grids = [];
const yAxes = [];
for (let i = 0; i < 6; i++) {
  grids.push({left: trackEdges[i], top: plotTop, width: trackEdges[i + 1] - trackEdges[i], height: plotHeight,
    show: true, borderColor: '#000', borderWidth: 2, backgroundColor: 'transparent'});
  yAxes.push({
    gridIndex: i, type: 'value', inverse: true, min: depthMin, max: depthMax,
    axisLine: {show: false}, axisTick: {show: false}, splitLine: {show: false},
    axisLabel: i === 0
      ? {show: true, customValues: depthLabels, fontSize: 19, color: '#111', margin: 10, fontFamily: FONT}
      : {show: false}
  });
}
const hidden = {show: false};
const xAxes = [
  Object.assign({gridIndex: 0, type: 'value', min: 20, max: 110}, hidden),
  Object.assign({gridIndex: 0, type: 'value', min: 8, max: 12}, hidden),
  Object.assign({gridIndex: 1, type: 'log', logBase: 10, min: 0.2, max: 200}, hidden),
  Object.assign({gridIndex: 2, type: 'value', min: 1.2, max: 2.2, inverse: true}, hidden),
  Object.assign({gridIndex: 3, type: 'value', min: 90, max: 210, inverse: true}, hidden),
  Object.assign({gridIndex: 4, type: 'value', min: 0, max: 100}, hidden),
  Object.assign({gridIndex: 5, type: 'value', min: 0, max: 1}, hidden)
];

// ---------- Series ----------
function gridLines(gridIndex, xAxisIndex, xValues) {
  const lines = [];
  xValues.forEach(v => lines.push({xAxis: v, lineStyle: {color: '#dedede', width: 1.3, type: 'solid'}}));
  depthMinor.forEach(d => lines.push({yAxis: d, lineStyle: {color: '#e2e2e2', width: 1.6, type: 'solid'}}));
  depthMajor.forEach(d => lines.push({yAxis: d, lineStyle: {color: '#4a4a4a', width: 1.3, type: 'solid'}}));
  return {
    type: 'line', xAxisIndex: xAxisIndex, yAxisIndex: gridIndex, data: [], z: 1, silent: true,
    markLine: {silent: true, z: 1, symbol: ['none', 'none'], label: {show: false}, animation: false, data: lines}
  };
}
function curve(name, data, xAxisIndex, yAxisIndex, color, width, z) {
  return {
    name: name, type: 'line', xAxisIndex: xAxisIndex, yAxisIndex: yAxisIndex,
    data: data.map(p => [p[1], p[0]]),
    showSymbol: false, symbol: 'none', clip: true, silent: true, z: z,
    lineStyle: {color: color, width: width, join: 'round', cap: 'round'}
  };
}

const series = [
  gridLines(0, 0, grGrid),
  gridLines(1, 2, resGrid),
  gridLines(2, 3, rhobGrid),
  gridLines(3, 4, sonicGrid),
  gridLines(4, 5, satGrid),
  {
    type: 'line', xAxisIndex: 6, yAxisIndex: 5, data: [], z: 1, silent: true,
    markArea: {silent: true, itemStyle: {color: '#e6ff00', borderColor: '#333', borderWidth: 1.5},
      data: [[{yAxis: reservoirTop}, {yAxis: depthMax}]]}
  },
  curve('Caliper', caliper, 1, 0, '#4d4d4d', 1.6, 3),
  curve('Gamma-Ray', gammaRay, 0, 0, '#008000', 3.8, 4),
  curve('RES_RING', resRing, 2, 1, '#8b0000', 2.2, 3),
  curve('P16H', p16h, 2, 1, '#000000', 2.4, 4),
  curve('A16H', a16h, 2, 1, '#008000', 2.4, 5),
  curve('A40H', a40h, 2, 1, '#ff0000', 2.2, 6),
  curve('P40H', p40h, 2, 1, '#4f86c6', 2.4, 7),
  curve('RHOB', rhob, 3, 2, '#000000', 3, 4),
  curve('Transit-Time', sonic, 4, 3, '#0000ff', 2.4, 4),
  curve('Archie Derived', archieSat, 5, 4, '#008080', 2.5, 4),
  {
    name: 'Core Derived', type: 'scatter', xAxisIndex: 5, yAxisIndex: 4, z: 6, silent: true,
    data: coreSat.map(p => [p[1], p[0]]), symbolSize: 8, clip: false,
    itemStyle: {color: '#ff0000'}
  }
];

const chart = echarts.init(document.getElementById('chart'), null, {renderer: 'canvas'});
chart.setOption({
  animation: false,
  backgroundColor: '#ffffff',
  textStyle: {fontFamily: FONT},
  grid: grids,
  xAxis: xAxes,
  yAxis: yAxes,
  series: series,
  graphic: {elements: graphics}
});
</script>
</body>
</html>
